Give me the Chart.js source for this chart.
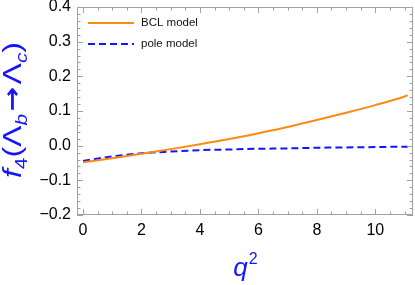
<!DOCTYPE html>
<html>
<head>
<meta charset="utf-8">
<script src="https://cdn.jsdelivr.net/npm/chart.js@4.4.1/dist/chart.umd.min.js"></script>
<style>
  html, body { margin: 0; padding: 0; background: #ffffff; }
  #wrap { width: 415px; height: 285px; position: relative; }
</style>
</head>
<body>
<div id="wrap"><canvas id="c" width="415" height="285"></canvas></div>
<script>
// ---- data ----
const qValues    = [0, 1, 2, 3, 4, 5, 6, 7, 8, 9, 10, 11, 11.11];
const bclValues  = [-0.048, -0.036, -0.023, -0.010, 0.004, 0.019, 0.036, 0.054, 0.074, 0.095, 0.117, 0.142, 0.1455];
const poleValues = [-0.044, -0.031, -0.022, -0.017, -0.013, -0.011, -0.009, -0.008, -0.006, -0.005, -0.004, -0.003, -0.003];
const seriesLabels = ['BCL model', 'pole model'];
const xTicks = [0, 2, 4, 6, 8, 10];
const yTicks = [-0.2, -0.1, 0.0, 0.1, 0.2, 0.3, 0.4];
const xMinorStep = 0.5;
const yMinorStep = 0.02;
const xTitle = 'q';
const xTitleSup = '2';

const ORANGE = '#ff8a12';
const BLUE = '#1414ff';
const FRAME = '#a0a0a0';
const FONT = '"Liberation Sans", Arial, sans-serif';

const toXY = (xs, ys) => xs.map((x, i) => ({ x: x, y: ys[i] }));

const framePlugin = {
  id: 'frameTicks',
  afterDraw(chart) {
    const ctx = chart.ctx;
    const a = chart.chartArea;
    const xs = chart.scales.x, ys = chart.scales.y;
    ctx.save();
    ctx.strokeStyle = FRAME;
    ctx.lineWidth = 1;
    ctx.strokeRect(Math.round(a.left) + 0.5, Math.round(a.top) + 0.5,
                   Math.round(a.right - a.left) - 1, Math.round(a.bottom - a.top) - 1);
    const isMajor = (v, arr) => arr.some(t => Math.abs(t - v) < 1e-6);
    ctx.beginPath();
    for (let v = Math.ceil(xs.min / xMinorStep) * xMinorStep; v <= xs.max + 1e-9; v += xMinorStep) {
      const px = Math.round(xs.getPixelForValue(v)) + 0.5;
      const len = isMajor(v, xTicks) ? 6 : 3.5;
      ctx.moveTo(px, a.bottom); ctx.lineTo(px, a.bottom - len);
      ctx.moveTo(px, a.top); ctx.lineTo(px, a.top + len);
    }
    for (let v = Math.ceil(ys.min / yMinorStep - 1e-6) * yMinorStep; v <= ys.max + 1e-9; v += yMinorStep) {
      const py = Math.round(ys.getPixelForValue(v)) + 0.5;
      const len = isMajor(v, yTicks) ? 6 : 3.5;
      ctx.moveTo(a.left, py); ctx.lineTo(a.left + len, py);
      ctx.moveTo(a.right, py); ctx.lineTo(a.right - len, py);
    }
    ctx.stroke();

    // legend inside plot
    const ds = chart.data.datasets;
    ctx.font = '11.5px ' + FONT;
    ctx.textBaseline = 'middle';
    ctx.textAlign = 'left';
    ds.forEach((d, i) => {
      const y = a.top + 16 + i * 21;
      ctx.beginPath();
      ctx.strokeStyle = d.borderColor;
      ctx.lineWidth = 2;
      ctx.setLineDash(d.borderDash || []);
      ctx.moveTo(a.left + 11, y);
      ctx.lineTo(a.left + 57, y);
      ctx.stroke();
      ctx.setLineDash([]);
      ctx.fillStyle = '#111';
      ctx.fillText(d.label, a.left + 64, y);
    });

    // x title: q^2
    ctx.fillStyle = BLUE;
    ctx.textBaseline = 'alphabetic';
    ctx.font = 'italic 26px ' + FONT;
    const qW = ctx.measureText(xTitle).width;
    ctx.font = '16px ' + FONT;
    const sW = ctx.measureText(xTitleSup).width;
    const cx = (a.left + a.right) / 2;
    const x0 = cx - (qW + sW) / 2;
    ctx.font = 'italic 26px ' + FONT;
    ctx.fillText(xTitle, x0, 276);
    ctx.font = '16px ' + FONT;
    ctx.fillText(xTitleSup, x0 + qW + 1, 264);

    // y title: f4(Λb → Λc), rotated
    const parts = [
      { t: 'f', f: 'italic 26px ' + FONT, dy: 0, g: 0 },
      { t: '4', f: '17px ' + FONT, dy: 6, g: 0 },
      { t: '(', f: '26px ' + FONT, dy: 0, g: 0 },
      { t: 'Λ', f: '26px ' + FONT, dy: 0, g: 0 },
      { t: 'b', f: 'italic 17px ' + FONT, dy: 6, g: 2 },
      { t: '→', f: 'bold 24px "DejaVu Sans", sans-serif', dy: -1, g: 2 },
      { t: 'Λ', f: '26px ' + FONT, dy: 0, g: 0 },
      { t: 'c', f: 'italic 17px ' + FONT, dy: 6, g: 0 },
      { t: ')', f: '26px ' + FONT, dy: 0, g: 0 }
    ];
    let total = 0;
    parts.forEach(p => { ctx.font = p.f; p.w = ctx.measureText(p.t).width; total += p.w + p.g; });
    const target = 136;
    const sx = target / total;
    const cy = 110;
    ctx.translate(20.5, cy);
    ctx.rotate(-Math.PI / 2);
    ctx.scale(sx, 1);
    let px = -total / 2;
    parts.forEach(p => { ctx.font = p.f; ctx.fillText(p.t, px, p.dy); px += p.w + p.g; });
    ctx.restore();
  }
};

const fmt = v => {
  const s = Math.abs(v) < 1e-9 ? '0.0' : v.toFixed(1);
  return s.replace('-', '\u2212');
};

new Chart(document.getElementById('c'), {
  type: 'line',
  data: {
    datasets: [
      {
        label: seriesLabels[0],
        data: toXY(qValues, bclValues),
        borderColor: ORANGE,
        borderWidth: 2,
        pointRadius: 0,
        fill: false,
        cubicInterpolationMode: 'monotone'
      },
      {
        label: seriesLabels[1],
        data: toXY(qValues, poleValues),
        borderColor: BLUE,
        borderWidth: 2,
        borderDash: [7, 4],
        pointRadius: 0,
        fill: false,
        cubicInterpolationMode: 'monotone'
      }
    ]
  },
  options: {
    responsive: false,
    animation: false,
    devicePixelRatio: 1,
    layout: { padding: { top: 7, right: 2, left: 0, bottom: 0 } },
    plugins: { legend: { display: false }, tooltip: { enabled: false } },
    scales: {
      x: {
        type: 'linear',
        min: -0.205,
        max: 11.29,
        grid: { display: false, drawTicks: false },
        border: { display: false },
        ticks: { color: '#000', font: { size: 16, family: FONT }, padding: 6, maxRotation: 0, callback: v => String(v) },
        afterBuildTicks: s => { s.ticks = xTicks.map(v => ({ value: v })); },
        afterFit: s => { s.height = 70; s.paddingLeft = 0; s.paddingRight = 0; }
      },
      y: {
        type: 'linear',
        min: -0.2,
        max: 0.4,
        grid: { display: false, drawTicks: false },
        border: { display: false },
        ticks: { color: '#000', font: { size: 16, family: FONT }, padding: 6, callback: v => fmt(v) },
        afterBuildTicks: s => { s.ticks = yTicks.map(v => ({ value: v })); },
        afterFit: s => { s.width = 77; s.paddingTop = 0; s.paddingBottom = 0; }
      }
    }
  },
  plugins: [framePlugin]
});
</script>
</body>
</html>
